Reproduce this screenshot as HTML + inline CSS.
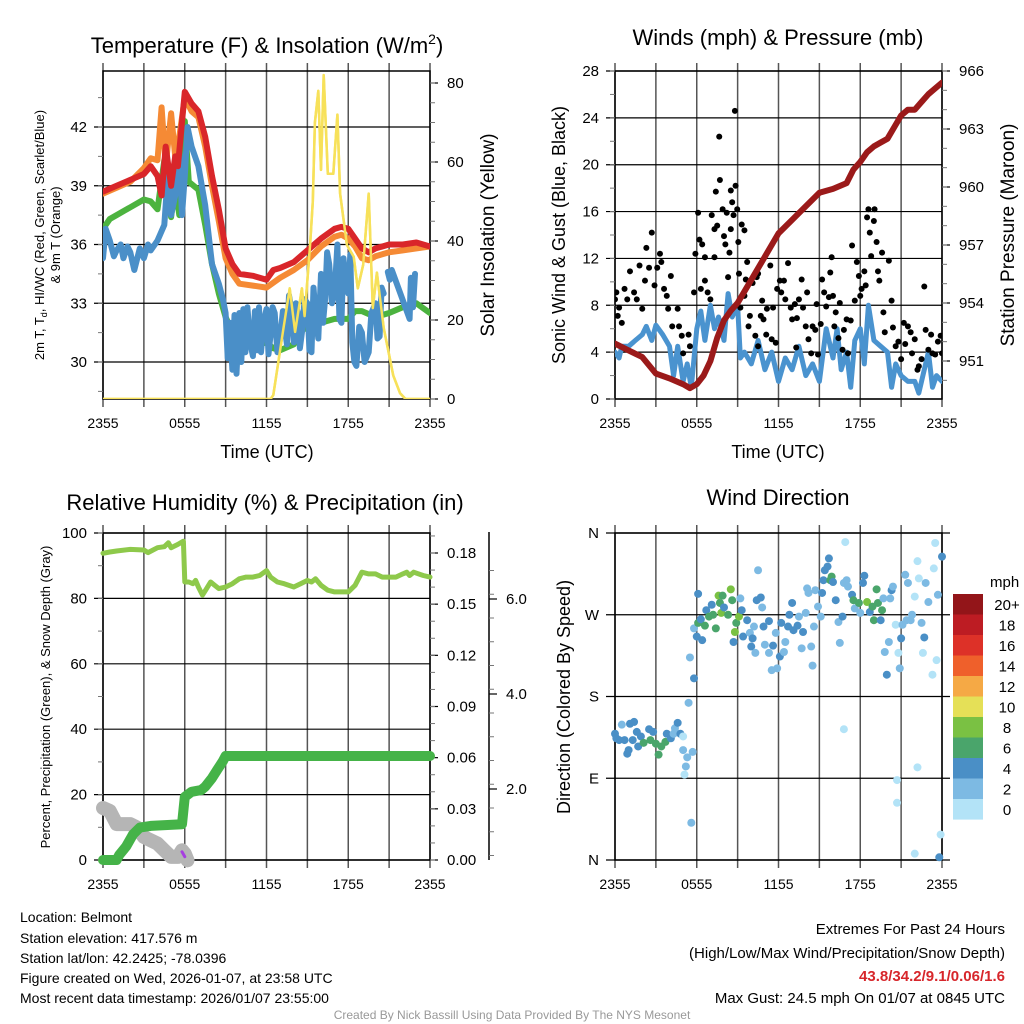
<!DOCTYPE html>
<html><head><meta charset="utf-8"><style>
html,body{margin:0;padding:0;background:#fff;}
svg{display:block;font-family:"Liberation Sans",sans-serif;}
</style></head><body>
<svg id="s" width="1024" height="1024" viewBox="0 0 1024 1024" xmlns="http://www.w3.org/2000/svg">
<rect width="1024" height="1024" fill="#fff"/>
<text x="267" y="53" font-size="22" text-anchor="middle">Temperature (F) &amp; Insolation (W/m<tspan font-size="14" dy="-9">2</tspan><tspan dy="9">)</tspan></text>
<text x="778" y="45" font-size="22" text-anchor="middle">Winds (mph) &amp; Pressure (mb)</text>
<text x="265" y="510" font-size="22" text-anchor="middle">Relative Humidity (%) &amp; Precipitation (in)</text>
<text x="778" y="505" font-size="22" text-anchor="middle">Wind Direction</text>
<text transform="translate(44,235) rotate(-90)" font-size="13" text-anchor="middle">2m T, T<tspan font-size="9" dy="3">d</tspan><tspan dy="-3">, HI/WC (Red, Green, Scarlet/Blue)</tspan></text>
<text transform="translate(60,235) rotate(-90)" font-size="13" text-anchor="middle">&amp; 9m T (Orange)</text>
<text transform="translate(494,235) rotate(-90)" font-size="19" text-anchor="middle">Solar Insolation (Yellow)</text>
<text transform="translate(565,235) rotate(-90)" font-size="18" text-anchor="middle">Sonic Wind &amp; Gust (Blue, Black)</text>
<text transform="translate(1014,235) rotate(-90)" font-size="19" text-anchor="middle">Station Pressure (Maroon)</text>
<text transform="translate(50,697) rotate(-90)" font-size="13" text-anchor="middle">Percent, Precipitation (Green), &amp; Snow Depth (Gray)</text>
<text transform="translate(570,697) rotate(-90)" font-size="18" text-anchor="middle">Direction (Colored By Speed)</text>
<text x="267" y="458" font-size="18" text-anchor="middle">Time (UTC)</text>
<text x="778" y="458" font-size="18" text-anchor="middle">Time (UTC)</text>
<g font-size="14">
<text x="20" y="922">Location: Belmont</text>
<text x="20" y="943">Station elevation: 417.576 m</text>
<text x="20" y="963">Station lat/lon: 42.2425; -78.0396</text>
<text x="20" y="983">Figure created on Wed, 2026-01-07, at 23:58 UTC</text>
<text x="20" y="1003">Most recent data timestamp: 2026/01/07 23:55:00</text>
</g>
<g font-size="15" text-anchor="end">
<text x="1005" y="934">Extremes For Past 24 Hours</text>
<text x="1005" y="958">(High/Low/Max Wind/Precipitation/Snow Depth)</text>
<text x="1005" y="981" fill="#d7262b" font-weight="bold">43.8/34.2/9.1/0.06/1.6</text>
<text x="1005" y="1003">Max Gust: 24.5 mph On 01/07 at 0845 UTC</text>
</g>
<text x="512" y="1019" font-size="12" fill="#999" text-anchor="middle">Created By Nick Bassill Using Data Provided By The NYS Mesonet</text>
</svg>
<script>
// ---------- data ----------
const xTickLabels=["2355","0555","1155","1755","2355"];
// Temperature panel
const redH=[0,1,2,3,3.5,4,4.3,4.6,5,5.3,5.5,6,6.5,7,7.5,8,8.5,9,9.5,10,11,12,12.5,13,14,15,16,17,17.5,18,18.5,19,19.5,20,21,22,23,24];
const redT=[38.7,39.0,39.3,39.6,40,39.5,38.5,41,39,40.5,40,43.8,43.2,42.8,41.5,39.5,37.8,35.8,35.0,34.5,34.4,34.2,34.7,34.8,35.1,35.7,36.3,36.8,36.9,36.8,36.3,35.8,35.6,35.8,36.0,36.0,36.1,35.9];
const orH=[0,1,2,3,3.5,4,4.3,4.6,5,5.3,5.5,6,6.5,7,7.5,8,8.5,9,9.5,10,11,12,13,14,15,16,17,17.5,18,18.5,19,19.5,20,21,22,23,24];
const orT=[38.6,38.9,39.2,39.9,40.4,40.3,43,40,42.7,40.5,41,43.5,42.8,42.5,41,39,37.2,35.3,34.5,34.0,33.9,33.8,34.3,34.7,35.2,35.9,36.4,36.5,36.3,35.9,35.3,35.2,35.4,35.6,35.7,35.8,35.9];
const grH=[0,0.5,1,2,3,3.5,4,4.5,5,5.3,5.6,6,6.3,7,7.5,8,8.5,9,9.5,10,11,12,12.5,13,14,14.5,15,16,17,18,18.5,19,20,21,22,23,24];
const grT=[36.8,37.3,37.5,37.9,38.3,38.2,37.8,40.3,37.4,39.0,37.5,42.3,39.2,38.8,37.0,35.0,33.5,32.3,31.5,31.0,30.8,31.0,30.7,30.6,30.9,31.5,31.9,32.0,32.2,32.2,32.6,32.6,32.3,32.5,32.8,33.0,32.5];
const blH=[0,0.2,0.5,0.8,1,1.3,1.5,1.8,2,2.3,2.7,3,3.3,3.5,4,4.5,4.8,5,5.3,5.6,5.8,6,6.2,6.5,7,7.5,8,8.5,8.8,9,9.15,9.3,9.5,9.65,9.8,10,10.15,10.3,10.45,10.6,10.8,11,11.15,11.3,11.45,11.6,11.8,12,12.15,12.3,12.45,12.6,12.8,13,13.2,13.5,13.65,13.8,14,14.15,14.3,14.45,14.6,14.8,15,15.15,15.3,15.45,15.6,15.8,16,16.15,16.3,16.45,16.6,16.8,17,17.2,17.35,17.5,17.65,17.8,18,18.15,18.3,18.45,18.6,18.8,19,19.2,19.5,19.7,20,20.15,20.3,20.45,20.6];
const blT=[35.3,36.8,36.2,35.4,35.7,36.0,35.3,35.9,35.6,34.7,35.8,35.3,36.0,35.7,36.2,37.0,40,37.5,38.5,41,37.5,39.5,42,41,40,38,35,34,33.2,32.5,30.2,32.0,29.6,32.4,29.4,32.5,30.0,32.7,30.5,32.8,31.0,30.3,32.6,30.6,32.8,30.5,32.1,32.7,30.4,31.4,32.8,32.5,30.5,31.2,32.6,30.9,33.4,32.8,31,33.0,32.5,30.7,31.5,33.2,33,30.6,30.5,33.8,32.5,31.2,34.5,32,33.2,35.6,35,33.0,33.5,36,32.2,32,35.3,34,33.5,35.5,31,30.0,29.8,31.8,31.5,30.0,30.5,32.5,33,31.2,31.3,33.8,33.5];
const bl2H=[20.9,21.05,21.2,22.5,22.6,22.75,22.9];
const bl2T=[34.6,34.2,34.7,32.2,34.3,32.8,34.5];
const solH=[0,12.3,12.5,13.2,13.7,14.1,14.6,14.8,15.2,15.4,15.55,15.8,16,16.2,16.5,16.9,17.2,17.4,17.9,18.4,18.7,19.1,19.5,19.8,20.1,20.6,21.3,21.8,22.2,24];
const solV=[0,0,1,17,28,17,28,21,39,50,70,78,58,82,57,57,72,52,39,36,28,34,52,23,32,18,6,1.5,0,0];
// Wind panel
const wH=[0,0.3,0.5,1,1.5,2,2.3,2.7,3,3.5,4,4.3,4.6,5,5.3,5.6,6,6.3,6.6,7,7.3,7.6,8,8.3,8.6,9,9.2,9.5,10,10.5,11,11.5,12,12.5,13,13.5,14,14.5,15,15.5,16,16.3,16.6,17,17.3,17.6,18,18.3,18.6,19,19.5,20,20.3,20.6,21,21.5,22,22.3,22.6,23,23.3,23.6,24];
const wS=[4,3.5,4.5,4.5,5,5.5,6.2,5,6.3,5.5,4.5,2,4.5,1.5,3,1,6,7.5,5,8,6,7,5,9,7,8,3.5,4,3,5,2.5,4,1.5,3.5,2.5,4.5,2,3,1.5,6,3.5,6,2.5,4,1,5,6,3,8,5,4.5,4,1,3,2,1.5,1.5,0.5,2,4,1,2,1.5];
const gH=[0,0.1,0.2,0.3,0.5,0.7,0.9,1.1,1.4,1.6,1.8,2.0,2.2,2.3,2.5,2.7,2.9,3.1,3.3,3.4,3.6,3.8,3.9,4.1,4.2,4.6,4.7,4.9,5.0,5.4,5.5,5.8,5.9,6.1,6.2,6.4,6.6,6.3,6.6,6.8,7.0,7.1,7.3,7.3,7.4,7.5,7.65,7.7,7.9,8.0,8.1,8.2,8.3,8.4,8.5,8.5,8.6,8.7,8.8,8.85,8.97,9.05,9.1,9.2,9.3,9.5,9.5,9.6,9.7,9.8,9.9,10.1,10.3,10.4,10.5,10.5,10.7,10.8,10.9,11.1,11.15,11.4,11.5,11.6,11.8,11.9,12.1,12.2,12.4,12.5,12.7,12.9,13.0,13.2,13.3,13.35,13.5,13.7,13.8,14.0,14.1,14.2,14.4,14.5,14.7,14.8,14.9,15.1,15.2,15.35,15.5,15.7,15.8,15.9,16.0,16.1,16.2,16.4,16.5,16.7,16.8,17.0,17.1,17.3,17.4,17.6,17.75,17.9,18.0,18.1,18.3,18.4,18.5,18.6,18.7,18.8,19.0,19.05,19.2,19.3,19.4,19.6,19.7,19.8,20.1,20.3,20.4,20.6,20.8,21.0,21.2,21.3,21.5,21.7,21.8,22.0,22.2,22.3,22.5,22.7,22.8,23.0,23.2,23.3,23.5,23.7,23.9,24.0];
const gV=[8.5,9.1,7.1,7.8,6.5,9.4,8.5,10.9,9.1,8.5,11.4,7.7,10.1,12.9,11.2,14.2,9.7,11.2,12.4,11.7,9.4,8.8,7.7,10.5,6.2,7.7,6.2,5.4,3.9,5.5,4.5,9.1,12.4,15.9,13.6,13.2,12.1,9.4,10.1,9.1,8.5,15.7,14.5,12.1,17.7,14.8,22.4,18.7,16.2,13.9,13.2,15.9,10.4,12.5,17.8,14.5,16.8,15.7,24.6,18.2,16.2,13.4,10.7,7.8,14.9,14.4,8.8,10.2,11.7,6.2,7.1,9.9,5.4,10.4,10.7,4.5,7.1,8.4,6.8,5.5,7.7,11.4,5.1,7.8,4.8,9.4,10.1,9.1,10.1,8.5,11.6,7.8,6.8,8.1,4.4,6.9,8.5,10.2,7.8,6.2,9.1,5.1,3.9,6.2,5.9,8.1,3.8,6.4,10.2,9.1,7.9,8.7,10.8,12.1,8.8,6.2,7.4,5.2,8.2,4.2,5.9,6.8,3.9,6.7,13.1,8.4,11.7,10.5,8.8,9.4,10.9,9.7,15.5,16.2,14.2,12.2,15.2,16.2,13.4,10.9,10.1,12.5,7.4,5.7,11.8,8.4,6.1,4.5,4.9,3.4,6.5,4.7,6.2,5.7,3.9,5.1,2.5,2.8,3.4,9.6,5.9,4.2,5.5,3.9,3.8,4.9,5.4,3.9];
const pH=[0,1,2,3,4,5,5.5,6,6.5,7,7.5,8,8.5,9,10,11,12,13,14,15,16,17,17.5,18,18.5,19,19.5,20,20.5,21,21.5,22,22.5,23,24];
const pV=[951.9,951.55,951.2,950.35,950.1,949.8,949.6,949.8,950.25,951.0,952.2,953.1,953.6,954.0,955.2,956.4,957.6,958.3,959.0,959.7,959.9,960.2,960.9,961.3,961.8,962.1,962.3,962.5,963.1,963.7,964.0,964.0,964.4,964.8,965.4];
// RH panel
const rhH=[0,0.5,1,2,3,3.3,4,4.5,4.8,5,5.5,5.9,6.0,6.3,6.6,6.8,7.0,7.3,7.6,7.9,8.2,8.5,9,9.5,10,10.5,11,11.5,12,12.3,12.8,13.3,14,14.5,15,15.3,15.6,16,16.5,17,17.5,18,18.5,19,19.5,20,20.5,21,21.5,22,22.3,22.5,22.8,23.5,24];
const rhV=[93.8,94.2,94.5,95,94.8,94,95.5,95.8,97,95.5,96.5,97.5,85,85,84.5,85.5,83.5,81,83,85,84,83,83.5,84.5,86,86.5,86.5,87,88.5,86.5,85,84.5,83.5,84.5,85.5,85,86,84,82.5,82,82,82,84,88,87.5,87.5,86.5,86.5,86.5,87.5,88,87,88,87,86.5];
const prH=[0,1.0,1.2,1.7,2.2,2.7,3.5,5.8,5.9,6.0,6.5,7.2,7.5,8,8.4,8.8,9.0,24];
const prV=[0,0,0.003,0.008,0.015,0.019,0.020,0.021,0.029,0.037,0.040,0.041,0.043,0.048,0.053,0.058,0.061,0.061];
const snH=[0,0.5,1,1.5,2,2.5,3,3.5,4,4.5,5,5.5,5.8,6,6.2];
const snV=[1.6,1.54,1.26,1.26,1.26,1.19,0.99,0.92,0.85,0.71,0.57,0.57,0.71,0.64,0.5];
const puH=[5.8,6.0];
const puV=[2.5,1.0];
// Direction panel
const dH=[0,0.1,0.3,0.5,0.7,0.9,1.0,1.1,1.3,1.4,1.6,1.7,1.9,2.1,2.5,2.6,2.8,3.0,3.2,3.4,3.7,3.8,4.1,4.3,4.4,4.6,4.8,5.0,5.0,5.2,5.1,5.3,5.4,5.5,5.6,5.7,5.8,5.8,6.0,6.1,6.1,6.3,6.4,6.6,6.7,6.9,7.1,7.2,7.4,7.6,7.7,7.8,7.9,8.0,8.3,8.5,8.6,8.7,8.8,8.9,9.1,9.2,9.3,9.4,9.7,9.9,10.0,10.1,10.2,10.3,10.4,10.5,10.7,10.8,10.9,11.0,11.3,11.3,11.5,11.6,11.8,11.9,12.1,12.2,12.4,12.5,12.7,12.8,13.0,13.1,13.4,13.5,13.7,13.8,14.0,14.1,14.2,14.4,14.5,14.6,14.7,14.9,15.1,15.2,15.3,15.4,15.6,15.7,15.8,15.9,16.0,16.2,16.4,16.5,16.7,16.8,16.9,16.8,17.0,17.1,17.4,17.5,17.6,17.9,18.0,18.2,18.3,18.5,18.7,18.9,19.0,19.2,19.3,19.5,19.6,19.7,19.8,19.95,20.1,20.2,20.3,20.4,20.6,20.7,20.7,20.8,20.9,21.0,21.1,21.3,21.4,21.5,21.7,21.8,22.0,22.0,22.2,22.2,22.3,22.5,22.6,22.7,22.8,23.0,23.3,23.4,23.5,23.6,23.7,23.9,23.8,24.0];
const dDeg=[139,134,132,149,132,117,121,150,132,152,141,125,136,129,144,132,141,128,116,125,130,139,134,139,145,151,139,136,121,103,94,113,173,223,41,119,200,255,246,293,261,265,242,258,275,268,281,270,255,291,283,272,291,278,270,298,286,240,251,261,268,288,275,246,264,250,235,244,257,228,286,319,289,278,257,237,228,263,209,236,250,211,224,261,229,240,257,270,283,253,258,268,233,251,272,299,294,235,214,257,297,279,268,294,308,319,323,332,308,312,306,286,262,239,268,305,350,144,308,301,292,286,277,283,272,305,313,284,273,279,264,298,283,264,275,288,229,204,240,288,297,301,259,88,63,228,211,244,259,314,264,305,264,270,290,7,102,329,310,261,228,245,305,284,204,321,349,220,292,28,3,334];
const dSpd=[4,4,4,2,4,4,4,4,4,4,4,4,4,6,4,6,4,6,6,6,6,4,4,2,2,4,4,0,2,2,0,2,2,2,2,2,4,2,4,4,6,4,4,6,4,6,4,6,6,8,6,8,6,4,6,8,6,4,8,6,8,2,4,4,4,2,4,4,2,2,4,2,4,2,4,2,2,4,2,4,2,2,4,4,2,2,4,4,4,4,4,2,2,4,2,2,2,2,2,2,2,2,2,4,4,4,4,4,6,6,4,4,2,2,4,2,0,0,2,2,4,6,2,6,2,4,4,8,4,6,6,6,6,4,6,2,2,4,2,2,4,2,0,0,0,0,2,4,2,2,2,2,2,2,0,0,0,0,0,2,0,4,2,2,0,0,0,0,2,0,4,4];
const cbLabels=["20+","18","16","14","12","10","8","6","4","2","0"];
const cbColors=["#931519","#bd1c23","#dd3128","#ef602b","#f5a945","#e5e057","#7ac143","#4aa56b","#4a8fc6","#7dbae3","#b3e3f7"];
const tempTicks=[30,33,36,39,42];
const solTicks=[0,20,40,60,80];
const windTicks=[0,4,8,12,16,20,24,28];
const presTicks=[951,954,957,960,963,966];
const pctTicks=[0,20,40,60,80,100];
const precTicks=[0,0.03,0.06,0.09,0.12,0.15,0.18];
const snowTicks=[2,4,6];
const dirTicks=[0,90,180,270,360];
const dirLabels=["N","E","S","W","N"];

// ---------- helpers ----------
const NS="http://www.w3.org/2000/svg";
const svg=document.getElementById('s');
function mk(tag,attrs,parent){const e=document.createElementNS(NS,tag);for(const k in attrs)e.setAttribute(k,attrs[k]);(parent||svg).appendChild(e);return e;}
function lin(d0,d1,r0,r1){return v=>r0+(v-d0)*(r1-r0)/(d1-d0);}
function path(xs,ys,fx,fy){return xs.map((h,i)=>(i?'L':'M')+fx(h).toFixed(1)+','+fy(ys[i]).toFixed(1)).join('');}

function frame(name,L,R,T,B){
  const g=mk('g',{});
  
  
  const fx=lin(0,24,L,R);
  for(let i=0;i<=8;i++){const x=fx(i*3);
    const l=mk('line',{x1:x,x2:x,y1:T-8,y2:B+8,stroke:'#555','stroke-width':1.5},g);
    
    }
  xTickLabels.forEach((t,i)=>{const tx=mk('text',{x:fx(i*6),y:B+29,'font-size':14,'text-anchor':'middle'},g);tx.textContent=t;
    
    });
  const b=mk('rect',{x:L,y:T,width:R-L,height:B-T,fill:'none',stroke:'#000','stroke-width':1.5},g);
  
  
  return {g,fx};
}
function leftAxis(g,ticks,fy,L,R,minorStep,lo,hi,labels,fmt){
  ticks.forEach((t,i)=>{const y=fy(t);
    const l=mk('line',{x1:L-9,x2:R,y1:y,y2:y,stroke:'#000','stroke-width':1.2},g);
    
    
    const tx=mk('text',{x:L-16,y:y+5,'font-size':15,'text-anchor':'end'},g);tx.textContent=labels?labels[i]:(fmt?fmt(t):t);
    
    });
  if(minorStep){for(let v=lo;v<=hi+1e-9;v+=minorStep){const y=fy(v);mk('line',{x1:L-5,x2:L,y1:y,y2:y,stroke:'#777','stroke-width':1},g);}}
}
function rightAxis(g,ticks,fy,x,minorStep,lo,hi,fmt,ytop,ybot,name){
  if(ytop!==undefined){const a=mk('line',{x1:x,x2:x,y1:ytop,y2:ybot,stroke:'#000','stroke-width':1.5},g);
    
    }
  ticks.forEach(t=>{const y=fy(t);mk('line',{x1:x,x2:x+8,y1:y,y2:y,stroke:'#000','stroke-width':1.2},g);
    const tx=mk('text',{x:x+17,y:y+5,'font-size':15},g);tx.textContent=fmt?fmt(t):t;
    
    });
  if(minorStep){for(let v=lo;v<=hi+1e-9;v+=minorStep){const y=fy(v);mk('line',{x1:x,x2:x+5,y1:y,y2:y,stroke:'#777','stroke-width':1},g);}}
}
function line(name,xs,ys,fx,fy,color,w){
  const p=mk('path',{d:path(xs,ys,fx,fy),fill:'none',stroke:color,'stroke-width':w,'stroke-linejoin':'round','stroke-linecap':'round'});
  
  
  return p;
}

// ---------- Temperature panel ----------
(function(){
  const L=103,R=430,T=71,B=399;
  const {g,fx}=frame('temp',L,R,T,B);
  const fy=lin(30,42,362,127);
  const fs=lin(0,80,399,83);
  leftAxis(g,tempTicks,fy,L,R,1.5,28.5,43.5);
  rightAxis(g,solTicks,fs,R,5,0,80);
  const clip=mk('clipPath',{id:'c1'});mk('rect',{x:L,y:T,width:R-L,height:B-T},clip);
  const pg=mk('g',{'clip-path':'url(#c1)'});
  
  
  pg.appendChild(line('solar-insolation-line',solH,solV,fx,fs,'#f7e15a',2.5));
  pg.appendChild(line('dewpoint-line',grH,grT,fx,fy,'#4cb33f',6));
  pg.appendChild(line('windchill-line',blH,blT,fx,fy,'#4a8fc8',6));
  pg.appendChild(line('windchill-line-2',bl2H,bl2T,fx,fy,'#4a8fc8',6));
  pg.appendChild(line('temp-9m-line',orH,orT,fx,fy,'#f58a35',6));
  pg.appendChild(line('temp-2m-line',redH,redT,fx,fy,'#d9262a',6));
  pg.appendChild(line('solar-insolation-line-top',solH,solV,fx,fs,'#f7e15a',2.5));
})();

// ---------- Wind panel ----------
(function(){
  const L=615,R=942,T=71,B=399;
  const {g,fx}=frame('wind',L,R,T,B);
  const fy=lin(0,28,399,71);
  const fp=lin(951,966,361,71);
  leftAxis(g,windTicks,fy,L,R,2,0,28);
  rightAxis(g,presTicks,fp,R,1,950,966);
  const clip=mk('clipPath',{id:'c2'});mk('rect',{x:L,y:T,width:R-L,height:B-T},clip);
  const pg=mk('g',{'clip-path':'url(#c2)'});
  
  
  pg.appendChild(line('sustained-wind-line',wH,wS,fx,fy,'#4a93cf',5));
  gH.forEach((h,i)=>{const c=mk('circle',{cx:fx(h),cy:fy(gV[i]),r:3,fill:'#000'},pg);
    
    });
  pg.appendChild(line('pressure-line',pH,pV,fx,fp,'#9b1a1a',6));
})();

// ---------- RH panel ----------
(function(){
  const L=103,R=430,T=533,B=860;
  const {g,fx}=frame('rh',L,R,T,B);
  const fy=lin(0,100,860,533);
  const fpr=lin(0,0.18,860,553);
  const fsn=lin(2,6,789,599);
  leftAxis(g,pctTicks,fy,L,R,10,0,100);
  rightAxis(g,precTicks,fpr,R,0.01,0,0.19,t=>t.toFixed(2));
  rightAxis(g,snowTicks,fsn,489,0.5,0.6,6.9,t=>t.toFixed(1),532,860,'snow-axis');
  const clip=mk('clipPath',{id:'c3'});mk('rect',{x:L-12,y:T,width:R-L+24,height:B-T+12},clip);
  const pg=mk('g',{'clip-path':'url(#c3)'});
  
  
  pg.appendChild(line('snow-depth-line',snH,snV,fx,fsn,'#b5b5b5',14));
  pg.appendChild(line('precip-line',prH,prV,fx,fpr,'#45b348',10));
  pg.appendChild(line('purple-line',puH,puV,fx,fy,'#a63ee0',3));
  pg.appendChild(line('rh-line',rhH,rhV,fx,fy,'#8ec94b',5));
})();

// ---------- Direction panel ----------
(function(){
  const L=615,R=942,T=533,B=860;
  const {g,fx}=frame('dir',L,R,T,B);
  const fy=lin(0,360,860,533);
  leftAxis(g,dirTicks,fy,L,R+8,0,0,0,dirLabels);
  const pg=mk('g',{});
  
  
  dH.forEach((h,i)=>{const idx=10-Math.min(10,Math.floor(dSpd[i]/2));
    const c=mk('circle',{cx:fx(h),cy:fy(dDeg[i]),r:4,fill:cbColors[idx]},pg);
    
    });
  const cb=mk('g',{});
  
  
  const t=mk('text',{x:990,y:587,'font-size':15},cb);t.textContent='mph';
  
  
  cbColors.forEach((c,i)=>{const y=594+i*20.5;
    const r=mk('rect',{x:953,y:y,width:30,height:20.6,fill:c},cb);
    
    
    const tx=mk('text',{x:1007,y:y+16,'font-size':15,'text-anchor':'middle'},cb);tx.textContent=cbLabels[i];
    
    });
})();
</script>
</body></html>
